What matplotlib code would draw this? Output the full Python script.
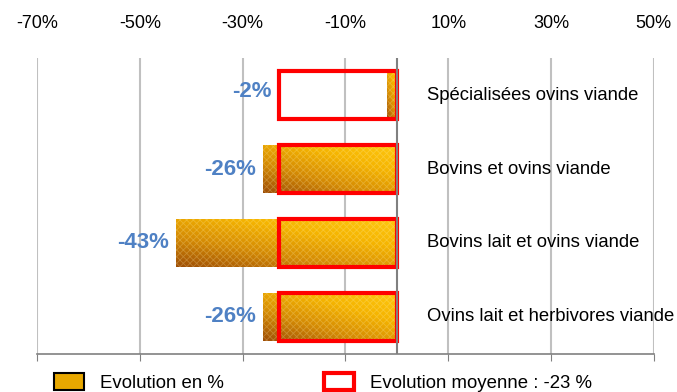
import numpy as np
import matplotlib.pyplot as plt
from matplotlib.patches import Patch
from matplotlib.colors import LinearSegmentedColormap

plt.rcParams['font.family'] = ['Liberation Sans', 'DejaVu Sans']
plt.rcParams['hatch.linewidth'] = 0.6

# Données
categories = ['Spécialisées ovins viande', 'Bovins et ovins viande',
              'Bovins lait et ovins viande', 'Ovins lait et herbivores viande']
evolution = [-2, -26, -43, -26]
moyenne = -23
ticks = [-70, -50, -30, -10, 10, 30, 50]

fig = plt.figure(figsize=(6.77, 3.92), dpi=100)
ax = fig.add_axes([0.0547, 0.097, 0.911, 0.755])

y = np.arange(len(categories))
h = 0.65

cmap = LinearSegmentedColormap.from_list('or', ['#9E4E06', '#D48A04', '#F5B400', '#FFC810'])
gx, gy = np.meshgrid(np.linspace(0, 1, 200), np.linspace(0, 1, 50))
grad = 0.45 * gx + 0.55 * (1 - gy)

bars = ax.barh(y, evolution, height=h, color='#E8A000', zorder=2)
for b in bars:
    x0, y0, w, hh = b.get_x(), b.get_y(), b.get_width(), b.get_height()
    im = ax.imshow(grad, extent=[x0 + w, x0, y0 + hh, y0], origin='upper',
                   cmap=cmap, aspect='auto', zorder=3, interpolation='bilinear')
    im.set_clip_path(b)
# texture légère
ax.barh(y, evolution, height=h, fill=False, hatch='xxxxx',
        edgecolor=(1, 0.95, 0.7, 0.25), linewidth=0, zorder=3.5)

# Moyenne
ax.barh(y, [moyenne] * len(y), height=h, fill=False, edgecolor='#FF0000',
        linewidth=3, zorder=4)

# Etiquettes
for i, v in enumerate(evolution):
    ax.text(min(v, moyenne) - 1.4, i - (0.05 if i == 0 else 0), f'{v}%',
            ha='right', va='center', color='#4F81C4', fontsize=16,
            fontweight='bold', zorder=5)
    ax.text(5.8, i, categories[i], ha='left', va='center', fontsize=13.3, zorder=5)

ax.axvline(0, color='#808080', lw=1.5, zorder=4)
ax.set_xlim(-70, 50)
ax.set_ylim(3.5, -0.5)
ax.set_xticks(ticks)
ax.set_xticklabels([f'{t}%' for t in ticks], fontsize=13)
ax.set_yticks([])
ax.grid(axis='x', color='#C0C0C0', lw=1.5, zorder=0)
ax.tick_params(axis='x', top=False, labeltop=True, bottom=True, labelbottom=False,
               direction='out', length=5, color='#808080', pad=13.5)
for s in ['top', 'left', 'right']:
    ax.spines[s].set_visible(False)
ax.spines['bottom'].set_color('#808080')
ax.spines['bottom'].set_linewidth(1.2)

handles = [Patch(facecolor='#E8A800', edgecolor='black', linewidth=1.5),
           Patch(facecolor='white', edgecolor='#FF0000', linewidth=3)]
fig.legend(handles, ['Evolution en %', 'Evolution moyenne : -23 %'], ncol=2,
           loc='lower left', bbox_to_anchor=(0.055, -0.042), frameon=False,
           fontsize=13.4, handlelength=1.6, handleheight=1.0, handletextpad=0.85,
           columnspacing=5.4)

fig.savefig('out.png', dpi=100)
